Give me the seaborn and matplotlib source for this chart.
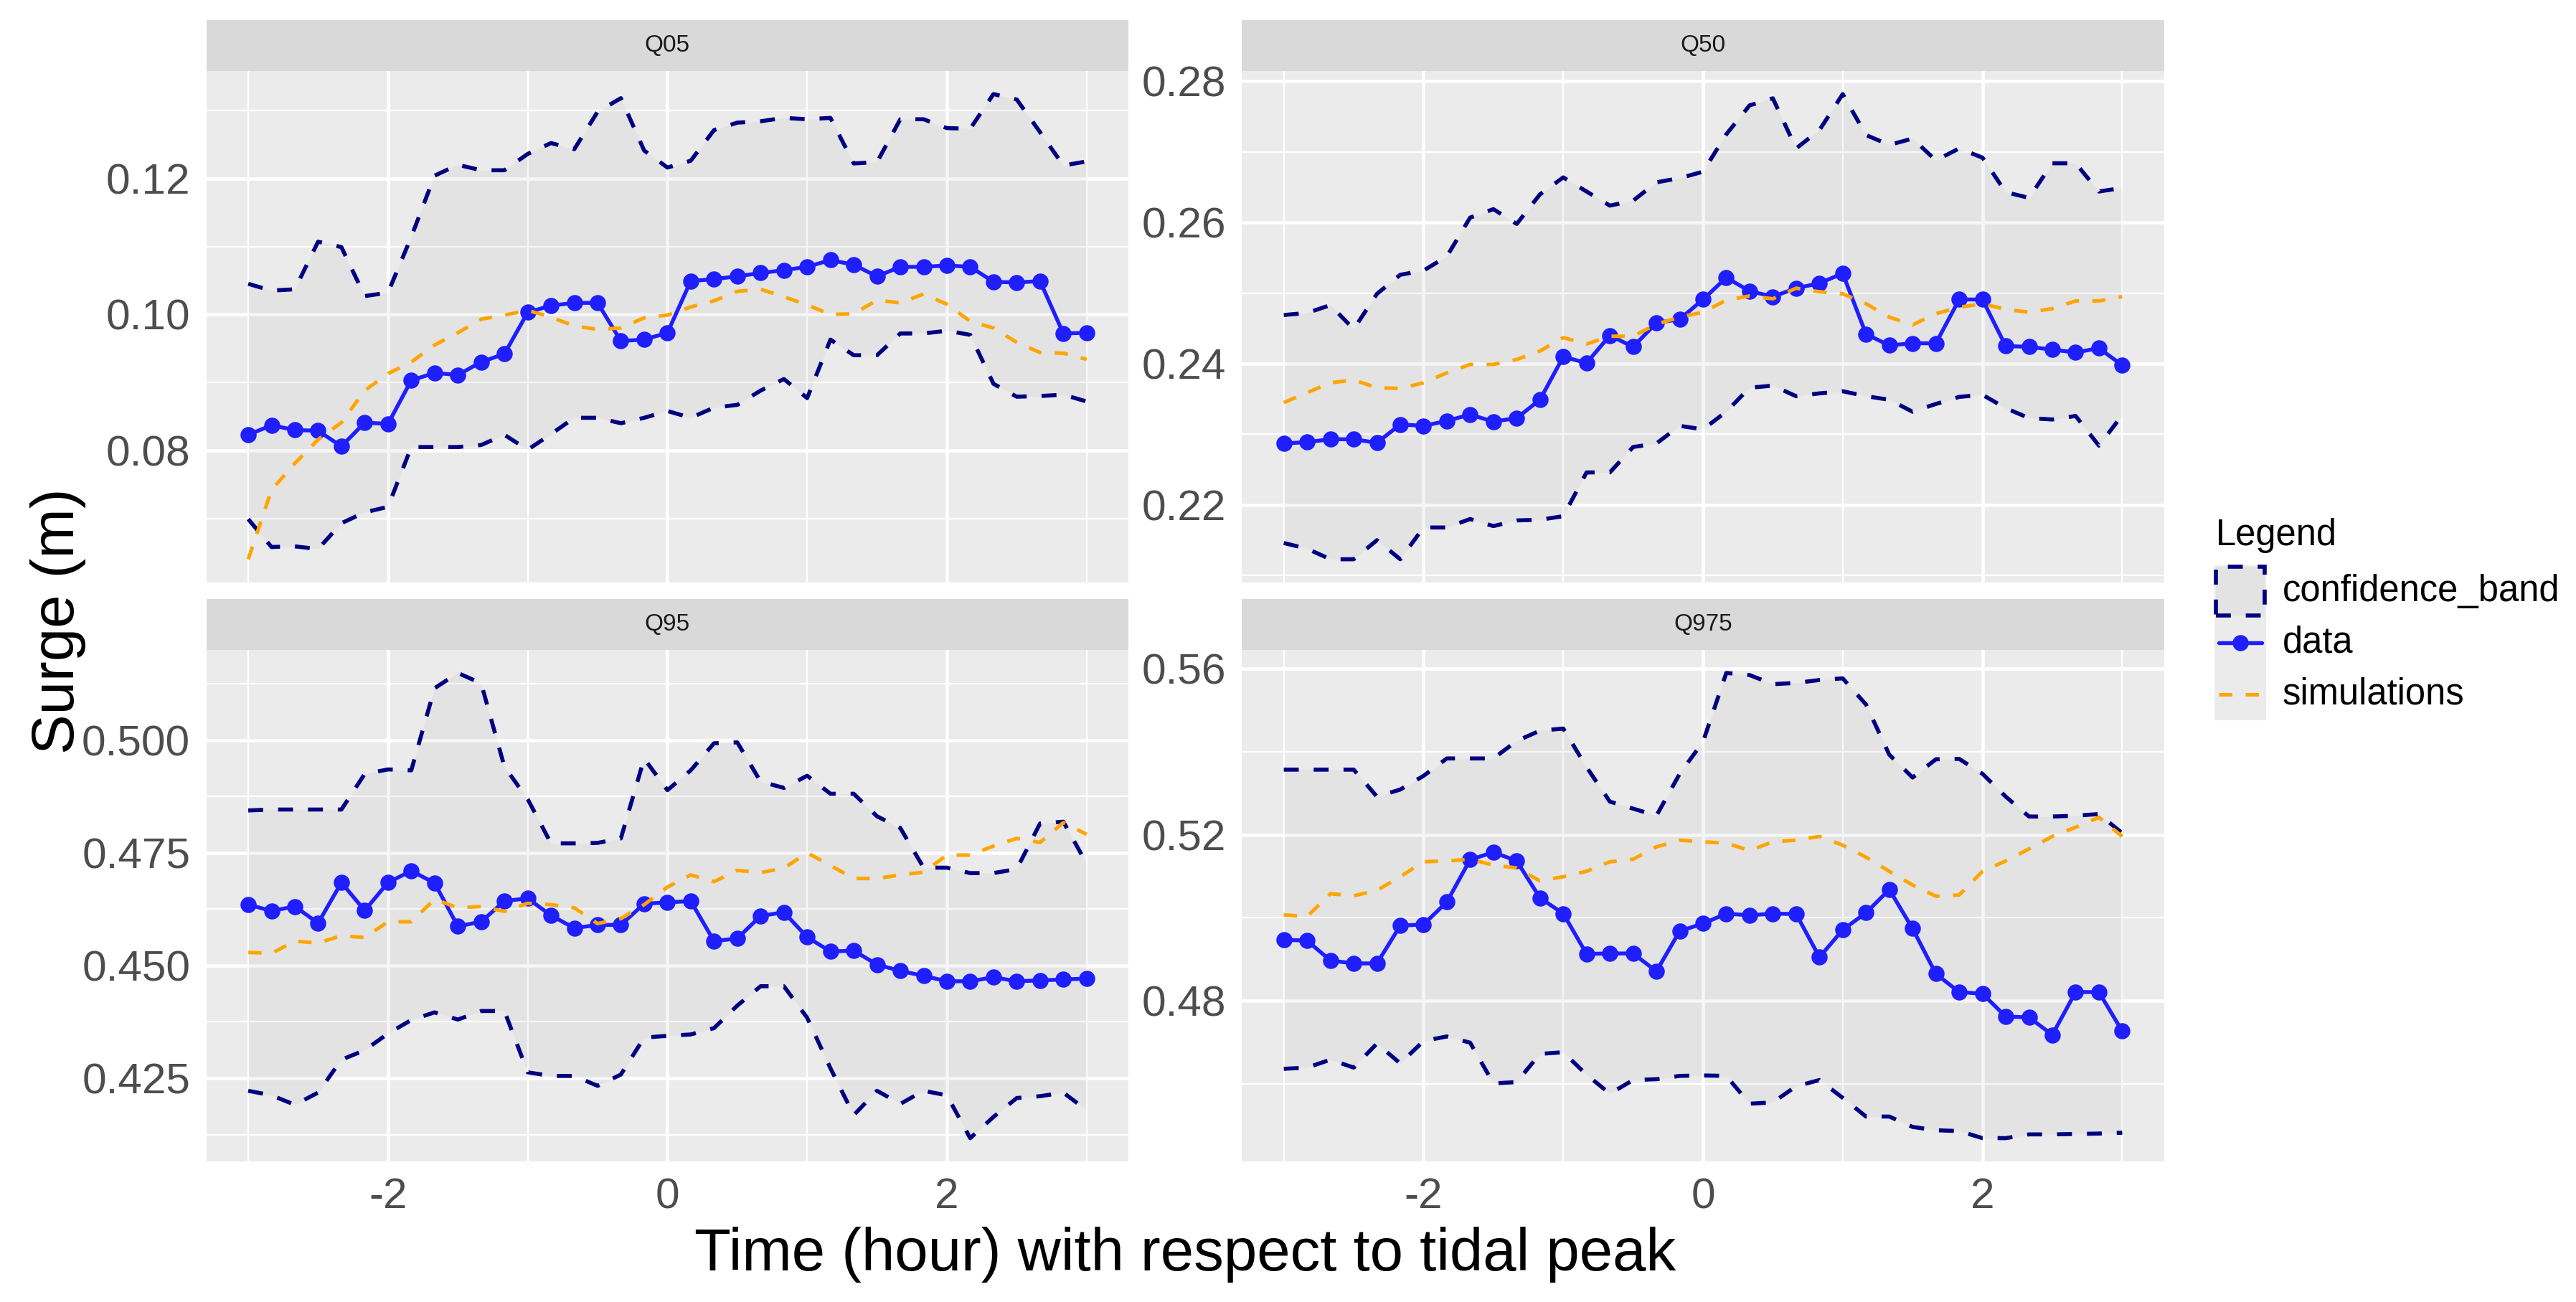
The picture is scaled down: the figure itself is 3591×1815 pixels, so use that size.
import numpy as np
import pandas as pd
import matplotlib
matplotlib.use("Agg")
import matplotlib.pyplot as plt
import seaborn as sns
from matplotlib.ticker import MultipleLocator, FormatStrFormatter
from matplotlib.patches import Rectangle
from matplotlib.lines import Line2D

# time axis: minutes around the tidal peak, every 10 min
minutes = [-180, -170, -160, -150, -140, -130, -120, -110, -100, -90, -80, -70, -60,
           -50, -40, -30, -20, -10, 0, 10, 20, 30, 40, 50, 60, 70, 80, 90, 100, 110,
           120, 130, 140, 150, 160, 170, 180]
time_h = [m / 60 for m in minutes]

panels = ['Q05', 'Q50', 'Q95', 'Q975']

# Q05
q05_data = [0.0823, 0.0837, 0.0830, 0.0829, 0.0806, 0.0841, 0.0839, 0.0903, 0.0914, 0.0911,
            0.0930, 0.0942, 0.1003, 0.1013, 0.1017, 0.1017, 0.0961, 0.0963, 0.0973, 0.1049,
            0.1052, 0.1056, 0.1061, 0.1065, 0.1070, 0.1080, 0.1073, 0.1056, 0.1070, 0.1070,
            0.1072, 0.1070, 0.1048, 0.1047, 0.1049, 0.0972, 0.0973]
q05_upper = [0.1045, 0.1035, 0.1037, 0.1107, 0.1099, 0.1027, 0.1032, 0.1114, 0.1204, 0.1220,
             0.1212, 0.1212, 0.1236, 0.1252, 0.1243, 0.1298, 0.1318, 0.1241, 0.1216, 0.1226,
             0.1271, 0.1282, 0.1284, 0.1289, 0.1287, 0.1289, 0.1222, 0.1224, 0.1287, 0.1287,
             0.1274, 0.1273, 0.1324, 0.1316, 0.1268, 0.1219, 0.1225]
q05_lower = [0.0699, 0.0658, 0.0659, 0.0655, 0.0693, 0.0709, 0.0717, 0.0805, 0.0805, 0.0805,
             0.0808, 0.0823, 0.0801, 0.0824, 0.0848, 0.0848, 0.0840, 0.0848, 0.0858, 0.0848,
             0.0863, 0.0867, 0.0888, 0.0905, 0.0877, 0.0963, 0.0940, 0.0940, 0.0972, 0.0972,
             0.0976, 0.0970, 0.0898, 0.0879, 0.0880, 0.0882, 0.0872]
q05_sim = [0.0640, 0.0742, 0.0781, 0.0816, 0.0841, 0.0888, 0.0913, 0.0930, 0.0955, 0.0973,
           0.0993, 0.0999, 0.1006, 0.0996, 0.0983, 0.0978, 0.0980, 0.0995, 0.0999, 0.1011,
           0.1020, 0.1034, 0.1037, 0.1026, 0.1014, 0.1000, 0.1001, 0.1021, 0.1017, 0.1030,
           0.1015, 0.0990, 0.0980, 0.0959, 0.0944, 0.0943, 0.0934]

# Q50
q50_data = [0.2287, 0.2289, 0.2293, 0.2293, 0.2288, 0.2314, 0.2312, 0.2319, 0.2328, 0.2318,
            0.2323, 0.2349, 0.2410, 0.2401, 0.2440, 0.2424, 0.2458, 0.2463, 0.2491, 0.2522,
            0.2503, 0.2495, 0.2507, 0.2514, 0.2528, 0.2442, 0.2426, 0.2429, 0.2429, 0.2491,
            0.2491, 0.2425, 0.2424, 0.2420, 0.2416, 0.2422, 0.2398]
q50_upper = [0.2469, 0.2472, 0.2483, 0.2449, 0.2499, 0.2526, 0.2532, 0.2552, 0.2607, 0.2619,
             0.2598, 0.2640, 0.2664, 0.2644, 0.2624, 0.2631, 0.2657, 0.2663, 0.2672, 0.2725,
             0.2766, 0.2776, 0.2705, 0.2731, 0.2782, 0.2724, 0.2710, 0.2719, 0.2688, 0.2705,
             0.2692, 0.2643, 0.2635, 0.2684, 0.2684, 0.2644, 0.2649]
q50_lower = [0.2146, 0.2138, 0.2123, 0.2123, 0.2150, 0.2123, 0.2168, 0.2168, 0.2180, 0.2170,
             0.2178, 0.2179, 0.2184, 0.2246, 0.2246, 0.2282, 0.2287, 0.2312, 0.2307, 0.2332,
             0.2366, 0.2369, 0.2354, 0.2358, 0.2361, 0.2354, 0.2349, 0.2332, 0.2343, 0.2353,
             0.2356, 0.2337, 0.2323, 0.2321, 0.2326, 0.2284, 0.2327]
q50_sim = [0.2345, 0.2359, 0.2373, 0.2377, 0.2366, 0.2365, 0.2373, 0.2387, 0.2399, 0.2399,
           0.2406, 0.2418, 0.2437, 0.2428, 0.2439, 0.2439, 0.2456, 0.2466, 0.2473, 0.2490,
           0.2496, 0.2492, 0.2507, 0.2502, 0.2499, 0.2485, 0.2466, 0.2455, 0.2471, 0.2480,
           0.2485, 0.2477, 0.2473, 0.2478, 0.2489, 0.2489, 0.2495]

# Q95
q95_data = [0.4635, 0.4621, 0.4631, 0.4594, 0.4684, 0.4622, 0.4684, 0.4710, 0.4683, 0.4587,
            0.4597, 0.4643, 0.4649, 0.4611, 0.4583, 0.4590, 0.4590, 0.4637, 0.4640, 0.4643,
            0.4554, 0.4560, 0.4610, 0.4618, 0.4563, 0.4531, 0.4533, 0.4502, 0.4488, 0.4477,
            0.4465, 0.4465, 0.4474, 0.4465, 0.4467, 0.4469, 0.4471]
q95_upper = [0.4844, 0.4846, 0.4846, 0.4846, 0.4846, 0.4925, 0.4935, 0.4933, 0.5115, 0.5149,
             0.5126, 0.4941, 0.4869, 0.4771, 0.4771, 0.4772, 0.4782, 0.4959, 0.4889, 0.4933,
             0.4993, 0.4995, 0.4908, 0.4894, 0.4921, 0.4881, 0.4881, 0.4831, 0.4805, 0.4717,
             0.4717, 0.4705, 0.4705, 0.4714, 0.4815, 0.4819, 0.4726]
q95_lower = [0.4222, 0.4212, 0.4191, 0.4218, 0.4291, 0.4312, 0.4349, 0.4379, 0.4396, 0.4380,
             0.4399, 0.4399, 0.4263, 0.4255, 0.4255, 0.4233, 0.4258, 0.4340, 0.4344, 0.4347,
             0.4361, 0.4411, 0.4454, 0.4454, 0.4384, 0.4272, 0.4168, 0.4222, 0.4193, 0.4222,
             0.4212, 0.4117, 0.4164, 0.4206, 0.4210, 0.4218, 0.4179]
q95_sim = [0.4529, 0.4527, 0.4554, 0.4550, 0.4566, 0.4562, 0.4597, 0.4597, 0.4647, 0.4628,
           0.4631, 0.4620, 0.4638, 0.4635, 0.4628, 0.4593, 0.4604, 0.4635, 0.4674, 0.4701,
           0.4686, 0.4711, 0.4706, 0.4716, 0.4750, 0.4722, 0.4693, 0.4693, 0.4701, 0.4707,
           0.4745, 0.4745, 0.4765, 0.4782, 0.4773, 0.4817, 0.4791]

# Q975
q975_data = [0.4947, 0.4945, 0.4897, 0.4890, 0.4890, 0.4981, 0.4984, 0.5038, 0.5140, 0.5158,
             0.5137, 0.5048, 0.5010, 0.4913, 0.4914, 0.4914, 0.4871, 0.4968, 0.4986, 0.5010,
             0.5006, 0.5010, 0.5009, 0.4905, 0.4971, 0.5012, 0.5068, 0.4974, 0.4865, 0.4821,
             0.4817, 0.4762, 0.4760, 0.4718, 0.4821, 0.4821, 0.4727]
q975_upper = [0.5357, 0.5357, 0.5357, 0.5357, 0.5292, 0.5309, 0.5342, 0.5384, 0.5384, 0.5384,
              0.5426, 0.5451, 0.5456, 0.5363, 0.5280, 0.5263, 0.5246, 0.5347, 0.5424, 0.5590,
              0.5585, 0.5563, 0.5566, 0.5573, 0.5577, 0.5514, 0.5393, 0.5338, 0.5382, 0.5383,
              0.5347, 0.5292, 0.5244, 0.5244, 0.5246, 0.5250, 0.5204]
q975_lower = [0.4636, 0.4639, 0.4658, 0.4639, 0.4697, 0.4649, 0.4703, 0.4714, 0.4699, 0.4601,
              0.4604, 0.4672, 0.4676, 0.4622, 0.4576, 0.4609, 0.4611, 0.4619, 0.4620, 0.4619,
              0.4552, 0.4555, 0.4594, 0.4609, 0.4566, 0.4521, 0.4521, 0.4496, 0.4488, 0.4486,
              0.4469, 0.4469, 0.4478, 0.4478, 0.4479, 0.4480, 0.4482]
q975_sim = [0.5007, 0.5003, 0.5058, 0.5053, 0.5066, 0.5099, 0.5135, 0.5137, 0.5141, 0.5127,
            0.5120, 0.5089, 0.5099, 0.5112, 0.5135, 0.5141, 0.5171, 0.5187, 0.5183, 0.5180,
            0.5162, 0.5183, 0.5187, 0.5196, 0.5175, 0.5146, 0.5112, 0.5079, 0.5052, 0.5055,
            0.5112, 0.5137, 0.5166, 0.5196, 0.5218, 0.5242, 0.5196]

series = {
    'Q05': (q05_data, q05_lower, q05_upper, q05_sim),
    'Q50': (q50_data, q50_lower, q50_upper, q50_sim),
    'Q95': (q95_data, q95_lower, q95_upper, q95_sim),
    'Q975': (q975_data, q975_lower, q975_upper, q975_sim),
}
y_steps = {'Q05': 0.02, 'Q50': 0.02, 'Q95': 0.025, 'Q975': 0.04}
y_fmt = {'Q05': '%.2f', 'Q50': '%.2f', 'Q95': '%.3f', 'Q975': '%.2f'}

sns.set_theme(style="darkgrid")
plt.rcParams['font.family'] = ['Liberation Sans', 'DejaVu Sans']
plt.rcParams['axes.unicode_minus'] = False
plt.rcParams['text.color'] = 'black'

BLUE = '#1E1EFF'
NAVY = '#000080'
ORANGE = '#FFA500'
DASH = (0, (3.7, 3.7))

fig = plt.figure(figsize=(3591 / 300, 1815 / 300), dpi=300)

# panel layout (figure fractions), facet_wrap style 2x2
col_x = [0.0801, 0.4821]
col_w = 0.3580
row_y = [0.5526, 0.1080]
row_h = 0.3930
strip_h = 0.0390

for i, name in enumerate(panels):
    r, c = divmod(i, 2)
    data, lower, upper, sim = series[name]
    ax = fig.add_axes([col_x[c], row_y[r], col_w, row_h])
    ax.set_facecolor('#EBEBEB')
    ax.set_axisbelow(True)

    df = pd.DataFrame({'time': time_h, 'data': data, 'lower': lower,
                       'upper': upper, 'simulations': sim})

    ax.fill_between(df['time'], df['lower'], df['upper'], color='#808080',
                    alpha=0.07, lw=0, zorder=2)
    for col in ['lower', 'upper']:
        sns.lineplot(data=df, x='time', y=col, ax=ax, color=NAVY, lw=1.35,
                     linestyle=DASH, legend=False, zorder=3)
    sns.lineplot(data=df, x='time', y='data', ax=ax, color=BLUE, lw=1.3,
                 marker='o', markersize=5.4, markeredgewidth=0,
                 markeredgecolor=BLUE, legend=False, zorder=4)
    sns.lineplot(data=df, x='time', y='simulations', ax=ax, color=ORANGE, lw=1.2,
                 linestyle=DASH, legend=False, zorder=5)

    # ggplot-like expansion of 5%
    lo = min(min(lower), min(sim), min(data))
    hi = max(max(upper), max(sim), max(data))
    pad = 0.05 * (hi - lo)
    ax.set_ylim(lo - pad, hi + pad)
    ax.set_xlim(-3.3, 3.3)

    ax.xaxis.set_major_locator(MultipleLocator(2))
    ax.xaxis.set_minor_locator(MultipleLocator(1))
    ax.yaxis.set_major_locator(MultipleLocator(y_steps[name]))
    ax.yaxis.set_minor_locator(MultipleLocator(y_steps[name] / 2))
    ax.yaxis.set_major_formatter(FormatStrFormatter(y_fmt[name]))

    ax.grid(which='major', color='white', lw=1.1)
    ax.grid(which='minor', color='white', lw=0.55)
    ax.tick_params(which='major', length=2.9, width=0.8, color='#333333',
                   labelcolor='#4D4D4D', labelsize=14.5, pad=2.5)
    ax.tick_params(which='minor', length=0)
    if r == 0:
        ax.tick_params(axis='x', which='both', bottom=False, labelbottom=False)
    for s in ax.spines.values():
        s.set_visible(False)
    ax.set_xlabel('')
    ax.set_ylabel('')

    # facet strip
    sax = fig.add_axes([col_x[c], row_y[r] + row_h, col_w, strip_h])
    sax.set_facecolor('#D9D9D9')
    sax.set_xticks([])
    sax.set_yticks([])
    sax.grid(False)
    for s in sax.spines.values():
        s.set_visible(False)
    sax.text(0.5, 0.5, name, ha='center', va='center', fontsize=8, color='#1A1A1A',
             transform=sax.transAxes)

# axis titles
fig.text(0.0225, 0.523, 'Surge (m)', rotation=90, ha='center', va='center', fontsize=20)
fig.text(0.460, 0.024, 'Time (hour) with respect to tidal peak', ha='center',
         va='baseline', fontsize=20)

# legend drawn by hand, ggplot style
kx, kw, kh = 0.8597, 0.0200, 0.0397
ktop = 0.5658
fig.text(0.8602, 0.581, 'Legend', ha='left', va='baseline', fontsize=12.2)
fig.add_artist(Rectangle((kx, ktop - 3 * kh), kw, 3 * kh, transform=fig.transFigure,
                         facecolor='#EBEBEB', edgecolor='none'))
fig.add_artist(Rectangle((kx + 0.0006, ktop - kh + 0.001), kw - 0.0012, kh - 0.002,
                         transform=fig.transFigure, facecolor='#E3E3E3',
                         edgecolor=NAVY, lw=1.35, linestyle=DASH))
labels = ['confidence_band', 'data', 'simulations']
for j, lab in enumerate(labels):
    yc = ktop - (j + 0.5) * kh
    if lab == 'data':
        fig.add_artist(Line2D([kx + 0.0016, kx + kw - 0.0016], [yc, yc],
                              transform=fig.transFigure, color=BLUE, lw=1.3))
        fig.add_artist(Line2D([kx + kw / 2], [yc], transform=fig.transFigure,
                              color=BLUE, marker='o', markersize=5.4, markeredgewidth=0))
    elif lab == 'simulations':
        fig.add_artist(Line2D([kx + 0.0016, kx + kw - 0.0016], [yc, yc],
                              transform=fig.transFigure, color=ORANGE, lw=1.2,
                              linestyle=DASH))
    fig.text(0.8861, yc, lab, ha='left', va='center', fontsize=12.2)

fig.savefig('out.png', dpi=300, facecolor='white')
